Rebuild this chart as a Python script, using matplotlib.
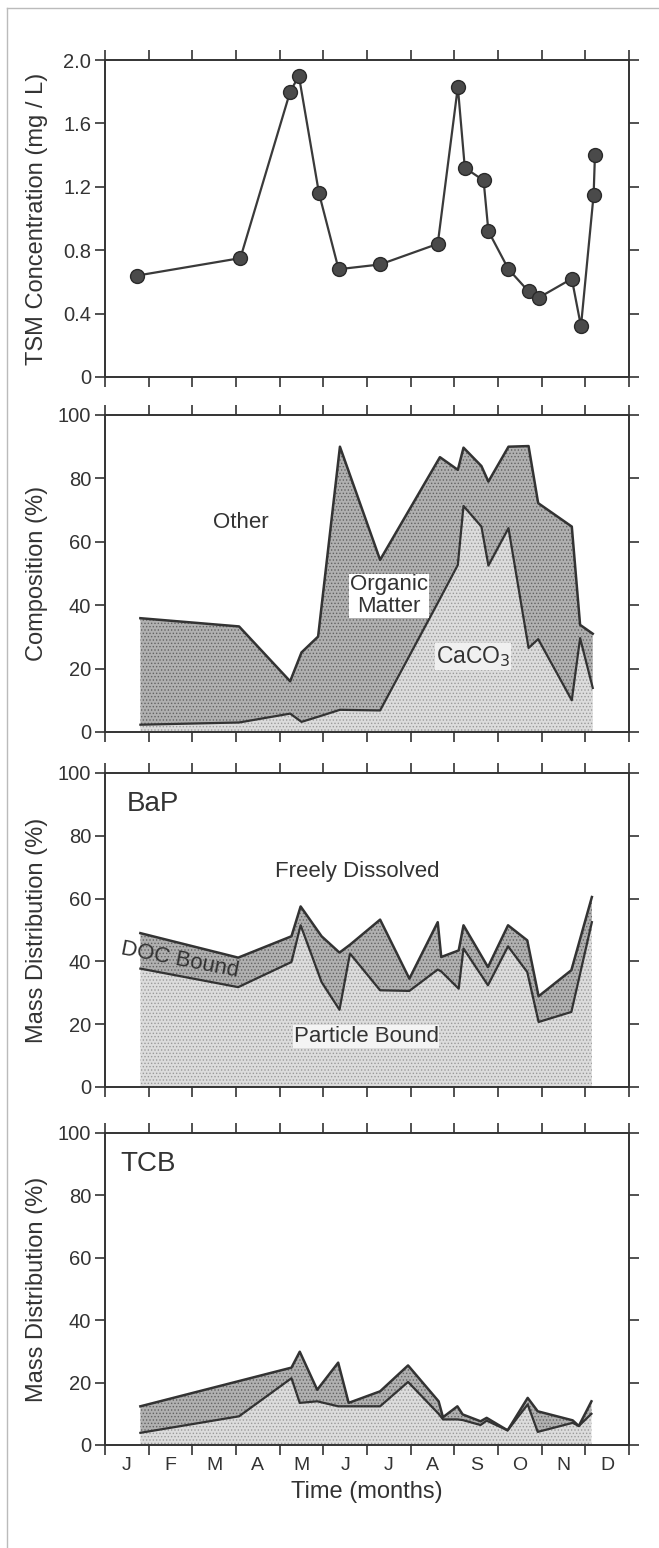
import matplotlib
matplotlib.use('Agg')
from matplotlib import pyplot as plt
from matplotlib.lines import Line2D

plt.rcParams['font.family'] = ['Liberation Sans', 'DejaVu Sans']
plt.rcParams['hatch.linewidth'] = 0.6

# time axis in months since 1 Jan
months = ['J', 'F', 'M', 'A', 'M', 'J', 'J', 'A', 'S', 'O', 'N', 'D']

# TSM concentration (mg/L)
tsm_t = [0.74, 3.10, 4.24, 4.44, 4.90, 5.35, 6.30, 7.62, 8.08, 8.24, 8.67, 8.78,
         9.24, 9.70, 9.93, 10.69, 10.90, 11.19, 11.22]
tsm = [0.64, 0.75, 1.80, 1.90, 1.16, 0.68, 0.71, 0.84, 1.83, 1.32, 1.24, 0.92,
       0.68, 0.54, 0.50, 0.62, 0.32, 1.15, 1.40]

# composition (%)
comp_t = [0.81, 3.07, 4.24, 4.50, 4.88, 5.38, 6.30, 7.67, 8.08, 8.21, 8.62, 8.78,
          9.24, 9.70, 9.92, 10.69, 10.88, 11.17]
caco3 = [2.3, 3.0, 5.8, 3.2, 4.8, 7.0, 6.8, 42.0, 52.7, 71.3, 64.8, 52.5,
         64.3, 26.5, 29.3, 10.0, 29.6, 13.9]
caco3_om = [35.9, 33.3, 16.0, 25.1, 30.1, 90.0, 54.3, 86.7, 82.7, 89.7, 83.9, 79.0,
            90.0, 90.2, 72.2, 64.8, 33.8, 31.0]

# BaP mass distribution (%)
bap_t = [0.81, 3.05, 4.27, 4.48, 4.96, 5.37, 5.61, 6.30, 6.97, 7.62, 7.70, 8.10,
         8.21, 8.77, 9.23, 9.67, 9.93, 10.68, 11.15]
bap_part = [37.7, 31.8, 39.8, 51.5, 33.4, 24.6, 42.5, 30.8, 30.6, 37.4, 36.8, 31.3,
            44.1, 32.4, 44.8, 36.6, 20.7, 23.9, 52.5]
bap_doc = [49.0, 41.2, 48.0, 57.5, 48.0, 42.8, 45.3, 53.3, 34.5, 52.5, 41.4, 43.5,
           51.5, 38.2, 51.5, 46.7, 28.9, 37.2, 60.5]

# TCB mass distribution (%)
tcb_t = [0.81, 3.07, 4.27, 4.46, 4.86, 5.34, 5.58, 6.30, 6.94, 7.64, 7.74, 8.07,
         8.19, 8.60, 8.74, 9.22, 9.68, 9.91, 10.71, 10.85, 11.14]
tcb_part = [3.9, 9.2, 21.4, 13.5, 14.0, 12.4, 12.4, 12.4, 20.2, 10.0, 8.2, 8.2,
            8.0, 6.4, 7.8, 4.7, 13.0, 4.2, 7.1, 6.1, 10.0]
tcb_doc = [12.4, 20.5, 24.8, 29.9, 17.7, 26.4, 13.5, 17.2, 25.5, 14.0, 8.9, 12.4,
           9.8, 7.6, 8.7, 4.7, 15.1, 10.8, 7.9, 6.1, 14.0]

ink = '#333333'
light_fc, light_hc = '#dcdcdc', '#9a9a9a'
dark_fc, dark_hc = '#b0b0b0', '#626262'

W, H = 659, 1548
fig = plt.figure(figsize=(W / 100, H / 100), dpi=100)
fig.patch.set_facecolor('white')

# page border lines
fig.add_artist(Line2D([7 / W, 7 / W], [0, 1 - 8 / H], color='#bbbbbb', lw=1))
fig.add_artist(Line2D([7 / W, 1], [1 - 8 / H, 1 - 8 / H], color='#bbbbbb', lw=1))


def make_axes(top, bottom):
    ax = fig.add_axes([105 / W, 1 - bottom / H, (629 - 105) / W, (bottom - top) / H])
    ax.set_xlim(0, 12)
    ax.set_xticks(range(13))
    ax.set_xticklabels([])
    ax.tick_params(which='major', direction='out', length=7, width=1.2, color=ink,
                   top=True, right=True, labelsize=14.5, labelcolor=ink, pad=3)
    for s in ax.spines.values():
        s.set_color(ink)
        s.set_linewidth(1.4)
    ax.yaxis.label.set_color(ink)
    ax.yaxis.set_label_coords(-0.108, 0.5)
    return ax


def band(ax, x, lo, hi, fc, hc):
    ax.fill_between(x, lo, hi, facecolor=fc, edgecolor=hc, hatch='.....', linewidth=0)


# panel 1: TSM
ax1 = make_axes(60, 377)
ax1.set_ylim(0, 2.0)
ax1.set_yticks([0, 0.4, 0.8, 1.2, 1.6, 2.0])
ax1.set_yticklabels(['0', '0.4', '0.8', '1.2', '1.6', '2.0'])
ax1.plot(tsm_t, tsm, color='#3a3a3a', lw=1.6, marker='o', ms=10,
         markerfacecolor='#4a4a4a', markeredgecolor='#2a2a2a')
ax1.set_ylabel('TSM Concentration (mg / L)', fontsize=17)

# panel 2: composition
ax2 = make_axes(415, 732)
ax2.set_ylim(0, 100)
ax2.set_yticks(range(0, 101, 20))
band(ax2, comp_t, 0, caco3, light_fc, light_hc)
band(ax2, comp_t, caco3, caco3_om, dark_fc, dark_hc)
ax2.plot(comp_t, caco3, color=ink, lw=1.6)
ax2.plot(comp_t, caco3_om, color=ink, lw=1.8)
ax2.set_ylabel('Composition (%)', fontsize=17)
ax2.text(3.1, 66, 'Other', fontsize=16, color=ink, ha='center', va='center')
ax2.text(6.5, 43, 'Organic\nMatter', fontsize=16, color=ink, ha='center', va='center',
         linespacing=1.05,
         bbox=dict(facecolor='white', edgecolor='none', pad=0.5))
ax2.text(8.43, 23.8, 'CaCO$_3$', fontsize=16.5, color=ink, ha='center', va='center',
         bbox=dict(facecolor='#f0f0f0', edgecolor='none', pad=0.5))

# panel 3: BaP
ax3 = make_axes(773, 1087)
ax3.set_ylim(0, 100)
ax3.set_yticks(range(0, 101, 20))
band(ax3, bap_t, 0, bap_part, light_fc, light_hc)
band(ax3, bap_t, bap_part, bap_doc, dark_fc, dark_hc)
ax3.plot(bap_t, bap_part, color=ink, lw=1.6)
ax3.plot(bap_t, bap_doc, color=ink, lw=1.8)
ax3.set_ylabel('Mass Distribution (%)', fontsize=17)
ax3.text(0.5, 90, 'BaP', fontsize=20, color=ink, ha='left', va='center')
ax3.text(5.78, 68.7, 'Freely Dissolved', fontsize=16, color=ink, ha='center', va='center')
ax3.text(5.98, 16.1, 'Particle Bound', fontsize=16, color=ink, ha='center', va='center',
         bbox=dict(facecolor='#f4f4f4', edgecolor='none', pad=0.5))
ax3.text(1.71, 40.3, 'DOC Bound', fontsize=16, color=ink, ha='center', va='center',
         rotation=-11)

# panel 4: TCB
ax4 = make_axes(1133, 1445)
ax4.set_ylim(0, 100)
ax4.set_yticks(range(0, 101, 20))
band(ax4, tcb_t, 0, tcb_part, light_fc, light_hc)
band(ax4, tcb_t, tcb_part, tcb_doc, dark_fc, dark_hc)
ax4.plot(tcb_t, tcb_part, color=ink, lw=1.6)
ax4.plot(tcb_t, tcb_doc, color=ink, lw=1.8)
ax4.set_ylabel('Mass Distribution (%)', fontsize=17)
ax4.text(0.35, 90, 'TCB', fontsize=20, color=ink, ha='left', va='center')
ax4.set_xticks([m + 0.5 for m in range(12)], minor=True)
ax4.set_xticklabels(months, minor=True)
ax4.tick_params(which='minor', length=0, labelsize=14, labelcolor=ink, pad=9)
ax4.set_xlabel('Time (months)', fontsize=17, color=ink, labelpad=5)

fig.savefig('out.png', dpi=100)
